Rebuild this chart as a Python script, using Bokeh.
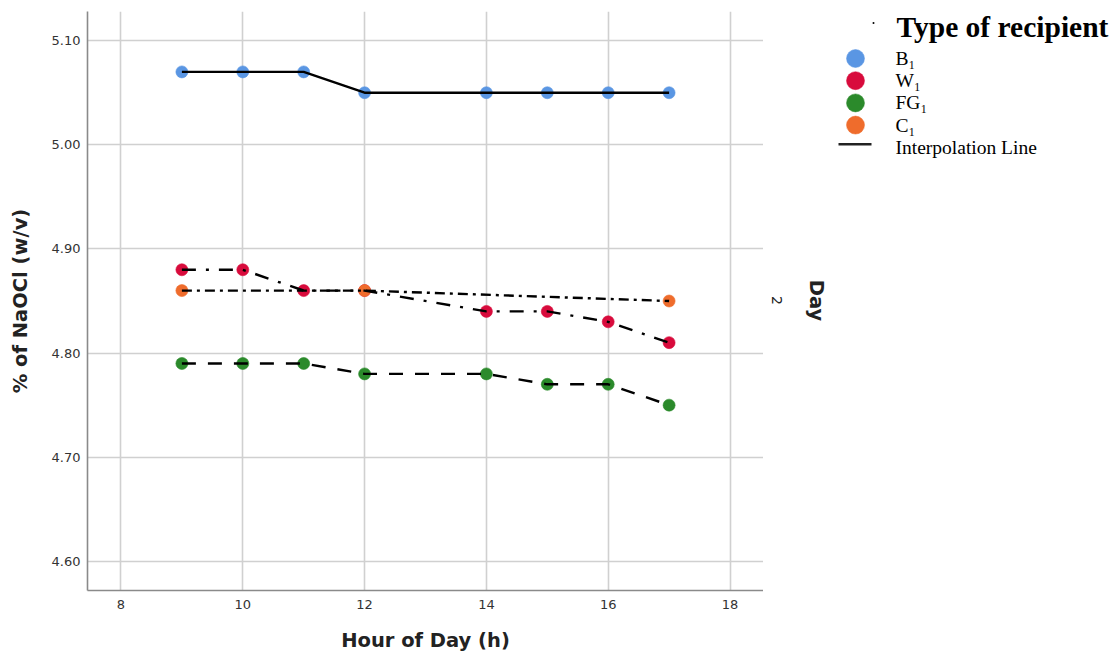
import math
from bokeh.plotting import figure
from bokeh.layouts import row
from bokeh.models import (Range1d, FixedTicker, NumeralTickFormatter, Label)
from bokeh.core.properties import value
from bokeh.embed import file_html
from bokeh.resources import INLINE

# ---- data ----
hours = [9, 10, 11, 12, 14, 15, 16, 17]
b1_values = [5.07, 5.07, 5.07, 5.05, 5.05, 5.05, 5.05, 5.05]
w1_values = [4.88, 4.88, 4.86, 4.86, 4.84, 4.84, 4.83, 4.81]
fg1_values = [4.79, 4.79, 4.79, 4.78, 4.78, 4.77, 4.77, 4.75]
c1_hours = [9, 12, 17]
c1_values = [4.86, 4.86, 4.85]

series_names = ["B\u2081", "W\u2081", "FG\u2081", "C\u2081"]
series_colors = ["#5a96e3", "#d80b3c", "#2b8a2b", "#ef6c2c"]
series_dash = ["solid", "14 10 3 10", "14 12", "10 5 3 5"]

x_ticks = [8, 10, 12, 14, 16, 18]
y_ticks = [4.60, 4.70, 4.80, 4.90, 5.00, 5.10]

legend_title = "Type of recipient"
interp_label = "Interpolation Line"
panel_title = "Day"
panel_value = "2"

# ---- layout constants ----
H = 655
LEFT = 87
TOP = 11
FRAME_H = 579
P_W = LEFT + 676
Q_W = 1113 - P_W

# ---- main figure ----
p = figure(width=P_W, height=H, output_backend="svg", toolbar_location=None,
           x_range=Range1d(7.45, 18.55), y_range=Range1d(4.572, 5.128),
           min_border_left=LEFT, min_border_right=0, min_border_top=TOP,
           min_border_bottom=H - TOP - FRAME_H)
p.outline_line_color = None

series = [
    (hours, b1_values),
    (hours, w1_values),
    (hours, fg1_values),
    (c1_hours, c1_values),
]

for (xs, ys), col in zip(series, series_colors):
    p.scatter(xs, ys, size=12, fill_color=col, line_color=col, line_alpha=0.6)

for (xs, ys), dash in zip(series, series_dash):
    p.line(xs, ys, line_color="black", line_width=2.4, line_dash=dash)

p.xaxis.ticker = FixedTicker(ticks=x_ticks)
p.yaxis.ticker = FixedTicker(ticks=y_ticks)
p.yaxis.formatter = NumeralTickFormatter(format="0.00")
for ax in (p.xaxis[0], p.yaxis[0]):
    ax.major_tick_line_color = None
    ax.minor_tick_line_color = None
    ax.major_tick_out = 0
    ax.major_tick_in = 0
    ax.minor_tick_out = 0
    ax.minor_tick_in = 0
    ax.axis_line_color = "#8a8a8a"
    ax.axis_line_width = 1.6
    ax.major_label_text_font = "DejaVu Sans"
    ax.major_label_text_font_size = "13px"
    ax.major_label_text_color = "#333333"
    ax.axis_label_text_font = "DejaVu Sans"
    ax.axis_label_text_font_size = "19.5px"
    ax.axis_label_text_font_style = "bold"
    ax.axis_label_text_color = "#222222"
p.xaxis.axis_label = "Hour of Day (h)"
p.yaxis.axis_label = "% of NaOCl (w/v)"
p.xaxis.major_label_standoff = 9
p.xaxis.axis_label_standoff = 17
p.yaxis.major_label_standoff = 7
p.yaxis.axis_label_standoff = 17

p.xgrid.grid_line_color = "#d0d0d0"
p.ygrid.grid_line_color = "#d0d0d0"
p.xgrid.grid_line_width = 1.6
p.ygrid.grid_line_width = 1.6

# ---- legend / panel-label figure (frame aligned with main frame; units = px) ----
q = figure(width=Q_W, height=H, output_backend="svg", toolbar_location=None,
           x_range=Range1d(0, Q_W), y_range=Range1d(FRAME_H, 0),
           min_border_left=0, min_border_right=0, min_border_top=TOP,
           min_border_bottom=H - TOP - FRAME_H)
q.axis.visible = False
q.grid.visible = False
q.outline_line_color = None

row0, pitch = 47, 22.2
rows = [row0 + i * pitch for i in range(len(series_names) + 1)]
glyph_x, label_x = 92, 132

q.scatter(x=[glyph_x] * len(series_names), y=rows[:len(series_names)], size=18,
          fill_color=series_colors, line_color=series_colors, line_alpha=0.5)
q.segment(x0=[glyph_x - 17], y0=[rows[-1] - 3], x1=[glyph_x + 16], y1=[rows[-1] - 3],
          line_color="#222222", line_width=2.6)
q.text(x=[label_x] * (len(series_names) + 1), y=rows,
       text=series_names + [interp_label],
       text_font=value("Liberation Serif"), text_font_size="19.5px",
       text_align="left", text_baseline="middle", text_color="black")
q.scatter(x=[110], y=[11.5], size=2, fill_color="black", line_color=None)

q.add_layout(Label(x=label_x + 1, y=15, text=legend_title,
                   text_font="Liberation Serif", text_font_style="bold", text_font_size="29.5px",
                   text_align="left", text_baseline="middle", text_color="black"))

q.add_layout(Label(x=53, y=289, text=panel_title,
                   angle=-math.pi / 2, text_font="DejaVu Sans", text_font_style="bold",
                   text_font_size="19.5px", text_align="center", text_baseline="middle",
                   text_color="#222222"))
q.add_layout(Label(x=13, y=289, text=panel_value,
                   angle=-math.pi / 2, text_font="DejaVu Sans",
                   text_font_size="14px", text_align="center", text_baseline="middle",
                   text_color="#222222"))

layout = row(p, q)
open("out.html", "w").write(file_html(layout, INLINE))
